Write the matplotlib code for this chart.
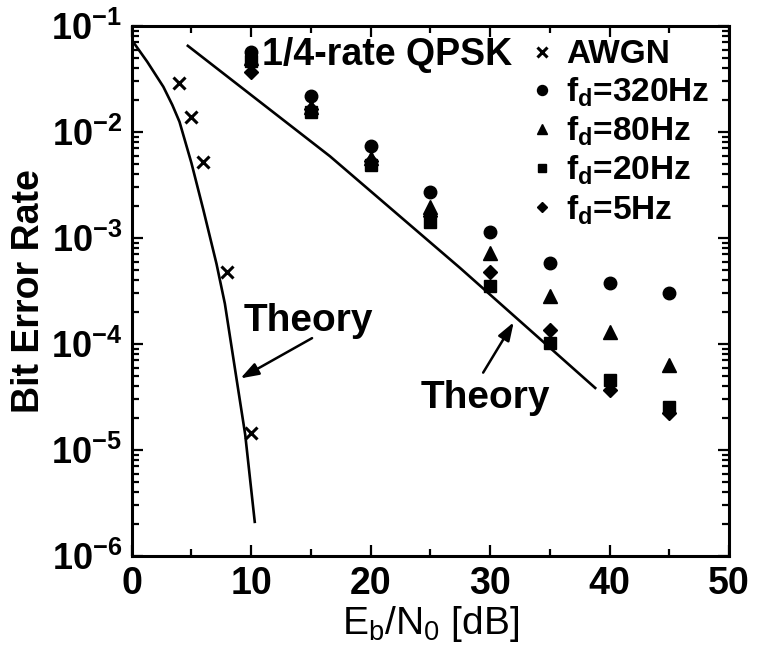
import matplotlib
matplotlib.use('Agg')
import matplotlib.pyplot as plt
from matplotlib.ticker import FixedLocator, FixedFormatter, MultipleLocator, LogLocator, NullFormatter

plt.rcParams['font.family'] = ['Liberation Sans', 'DejaVu Sans']
plt.rcParams['mathtext.fontset'] = 'custom'
plt.rcParams['mathtext.rm'] = 'Liberation Sans'
plt.rcParams['mathtext.bf'] = 'Liberation Sans:bold'
plt.rcParams['mathtext.it'] = 'Liberation Sans:italic'

# theory curves
awgn_th_x = [0, 1.3, 2.65, 3.4, 4.0, 5.0, 6.0, 7.1, 7.8, 8.8, 9.5, 10.3]
awgn_th_y = [7.4e-2, 4.6e-2, 2.67e-2, 1.8e-2, 1.25e-2, 5.1e-3, 1.84e-3, 5.7e-4, 2.4e-4, 4.5e-5, 1.4e-5, 2.1e-6]
ray_th_x = [4.7, 16.6, 27.5, 38.8]
ray_th_y = [6.5e-2, 5.9e-3, 5.2e-4, 3.85e-5]

# measured
awgn_x = [4, 5, 6, 8, 10]
awgn_y = [2.9e-2, 1.4e-2, 5.2e-3, 4.8e-4, 1.45e-5]

fd_x = [10, 15, 20, 25, 30, 35, 40, 45]
fd320 = [5.7e-2, 2.19e-2, 7.3e-3, 2.74e-3, 1.13e-3, 5.85e-4, 3.74e-4, 3.05e-4]
fd80 = [5.0e-2, 1.73e-2, 5.7e-3, 1.97e-3, 7.2e-4, 2.86e-4, 1.31e-4, 6.3e-5]
fd20 = [4.7e-2, 1.56e-2, 4.9e-3, 1.43e-3, 3.5e-4, 1.02e-4, 4.57e-5, 2.56e-5]
fd5 = [3.7e-2, 1.65e-2, 5.3e-3, 1.6e-3, 4.8e-4, 1.36e-4, 3.68e-5, 2.24e-5]

ytick_vals = [1e-6, 1e-5, 1e-4, 1e-3, 1e-2, 1e-1]
ytick_labels = [r'$\mathbf{10^{-6}}$', r'$\mathbf{10^{-5}}$', r'$\mathbf{10^{-4}}$',
                r'$\mathbf{10^{-3}}$', r'$\mathbf{10^{-2}}$', r'$\mathbf{10^{-1}}$']

W, H = 757, 657
fig = plt.figure(figsize=(W / 100, H / 100), dpi=100)
L, R, T, B = 131.7, 729, 26, 556
ax = fig.add_axes([L / W, 1 - B / H, (R - L) / W, (B - T) / H])
ax.set_yscale('log')

k = dict(color='black', linestyle='none')
ax.plot(awgn_th_x, awgn_th_y, color='black', lw=1.9)
ax.plot(ray_th_x, ray_th_y, color='black', lw=1.9)
h_awgn, = ax.plot(awgn_x, awgn_y, marker='x', ms=9, mew=2.2, **k)
h320, = ax.plot(fd_x, fd320, marker='o', ms=9, **k)
h80, = ax.plot(fd_x, fd80, marker='^', ms=9.5, **k)
h20, = ax.plot(fd_x, fd20, marker='s', ms=8, **k)
h5, = ax.plot(fd_x, fd5, marker='D', ms=7, **k)

ax.set_xlim(0, 50)
ax.set_ylim(1e-6, 1e-1)

ax.xaxis.set_major_locator(MultipleLocator(10))
ax.xaxis.set_minor_locator(MultipleLocator(5))
ax.yaxis.set_major_locator(FixedLocator(ytick_vals))
ax.yaxis.set_major_formatter(FixedFormatter(ytick_labels))
ax.yaxis.set_minor_locator(LogLocator(base=10, subs=range(2, 10), numticks=20))
ax.yaxis.set_minor_formatter(NullFormatter())
ax.tick_params(which='both', direction='in', top=True, right=True, width=1.6)
ax.tick_params(which='major', length=8, labelsize=26, pad=7)
ax.tick_params(axis='x', which='major', labelsize=27)
ax.tick_params(which='minor', length=5)
for lab in ax.get_xticklabels():
    lab.set_fontweight('bold')
for s in ax.spines.values():
    s.set_linewidth(2.2)

ax.set_ylabel('Bit Error Rate', fontsize=27, fontweight='bold')
ax.yaxis.set_label_coords(-0.142, 0.5)
ax.set_xlabel(r'E$_\mathrm{b}$/N$_\mathrm{0}$ [dB]', fontsize=28, labelpad=2)

ax.text(0.218, 0.945, '1/4-rate QPSK', transform=ax.transAxes, fontsize=27,
        fontweight='bold', ha='left', va='center')

leg = ax.legend([h_awgn, h320, h80, h20, h5],
                ['AWGN', r'f$_\mathbf{d}$=320Hz', r'f$_\mathbf{d}$=80Hz',
                 r'f$_\mathbf{d}$=20Hz', r'f$_\mathbf{d}$=5Hz'],
                loc='upper left', bbox_to_anchor=(0.668, 0.975), frameon=False,
                borderaxespad=0, borderpad=0, handlelength=0.7, handletextpad=0.35,
                labelspacing=0.17, prop={'size': 24, 'weight': 'bold'}, markerscale=0.8)

arrow = dict(arrowstyle='-|>,head_length=1.1,head_width=0.38', color='black', lw=1.8)
ax.text(14.8, 1.65e-4, 'Theory', fontsize=28, fontweight='bold', ha='center', va='center')
ax.annotate('', xy=(8.9, 4.6e-5), xytext=(15.3, 1.17e-4), arrowprops=arrow)
ax.text(29.6, 3.1e-5, 'Theory', fontsize=28, fontweight='bold', ha='center', va='center')
ax.annotate('', xy=(32.1, 1.69e-4), xytext=(29.3, 5.1e-5), arrowprops=arrow)

fig.savefig('out.png', dpi=100)
